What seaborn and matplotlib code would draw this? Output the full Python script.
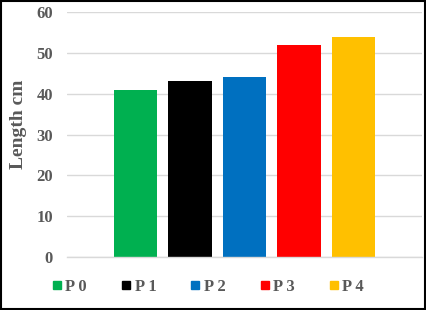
import matplotlib
matplotlib.use("Agg")
import matplotlib.pyplot as plt
import seaborn as sns
from matplotlib.lines import Line2D
from matplotlib.patches import Rectangle

categories = ["P 0", "P 1", "P 2", "P 3", "P 4"]
values = [41, 43, 44, 52, 54]
colors = ["#00B050", "#000000", "#0070C0", "#FF0000", "#FFC000"]
yticks = [0, 10, 20, 30, 40, 50, 60]

sns.set_theme(style="white")
plt.rcParams["font.family"] = ["Liberation Serif", "DejaVu Serif"]
txt = "#595959"

fig = plt.figure(figsize=(4.26, 3.10), dpi=100)
ax = fig.add_axes([67/426, 53/310, (422-67)/426, 245/310])

sns.barplot(x=categories, y=values, hue=categories, palette=colors,
            width=0.79, saturation=1, legend=False, ax=ax, linewidth=0)

ax.set_ylim(0, 60)
ax.set_xlim(-1.257, 5.257)
ax.set_yticks(yticks)
ax.set_yticklabels([str(t) for t in yticks], fontsize=12, fontweight="bold", color=txt)
ax.set_xticks([])
ax.set_xlabel("")
ax.set_ylabel("Length cm", fontsize=14, fontweight="bold", color=txt)
ax.yaxis.label.set_va("center")
ax.yaxis.label.set_ha("center")
ax.yaxis.set_label_coords(-0.138, 0.54)
ax.tick_params(axis="y", length=0, pad=10)
ax.grid(axis="y", color="#D9D9D9", linewidth=1)
ax.set_axisbelow(True)
for s in ["left", "right", "top"]:
    ax.spines[s].set_visible(False)
ax.spines["bottom"].set_color("#D9D9D9")
ax.spines["bottom"].set_linewidth(1)

handles = [Line2D([0], [0], marker="s", linestyle="none", markersize=5.8,
                  markerfacecolor=c, markeredgecolor=c) for c in colors]
leg = fig.legend(handles, categories, loc="center", bbox_to_anchor=(208/426, 23/310),
                 ncol=5, frameon=False, handlelength=0.6, handletextpad=0.2,
                 columnspacing=2.05, prop={"family": "Liberation Serif", "weight": "bold", "size": 12})
for t in leg.get_texts():
    t.set_color(txt)

fig.patches.append(Rectangle((0.002, 0.003), 0.995, 0.994, transform=fig.transFigure,
                             fill=False, edgecolor="black", linewidth=1.5))

fig.savefig("out.png", dpi=100)
